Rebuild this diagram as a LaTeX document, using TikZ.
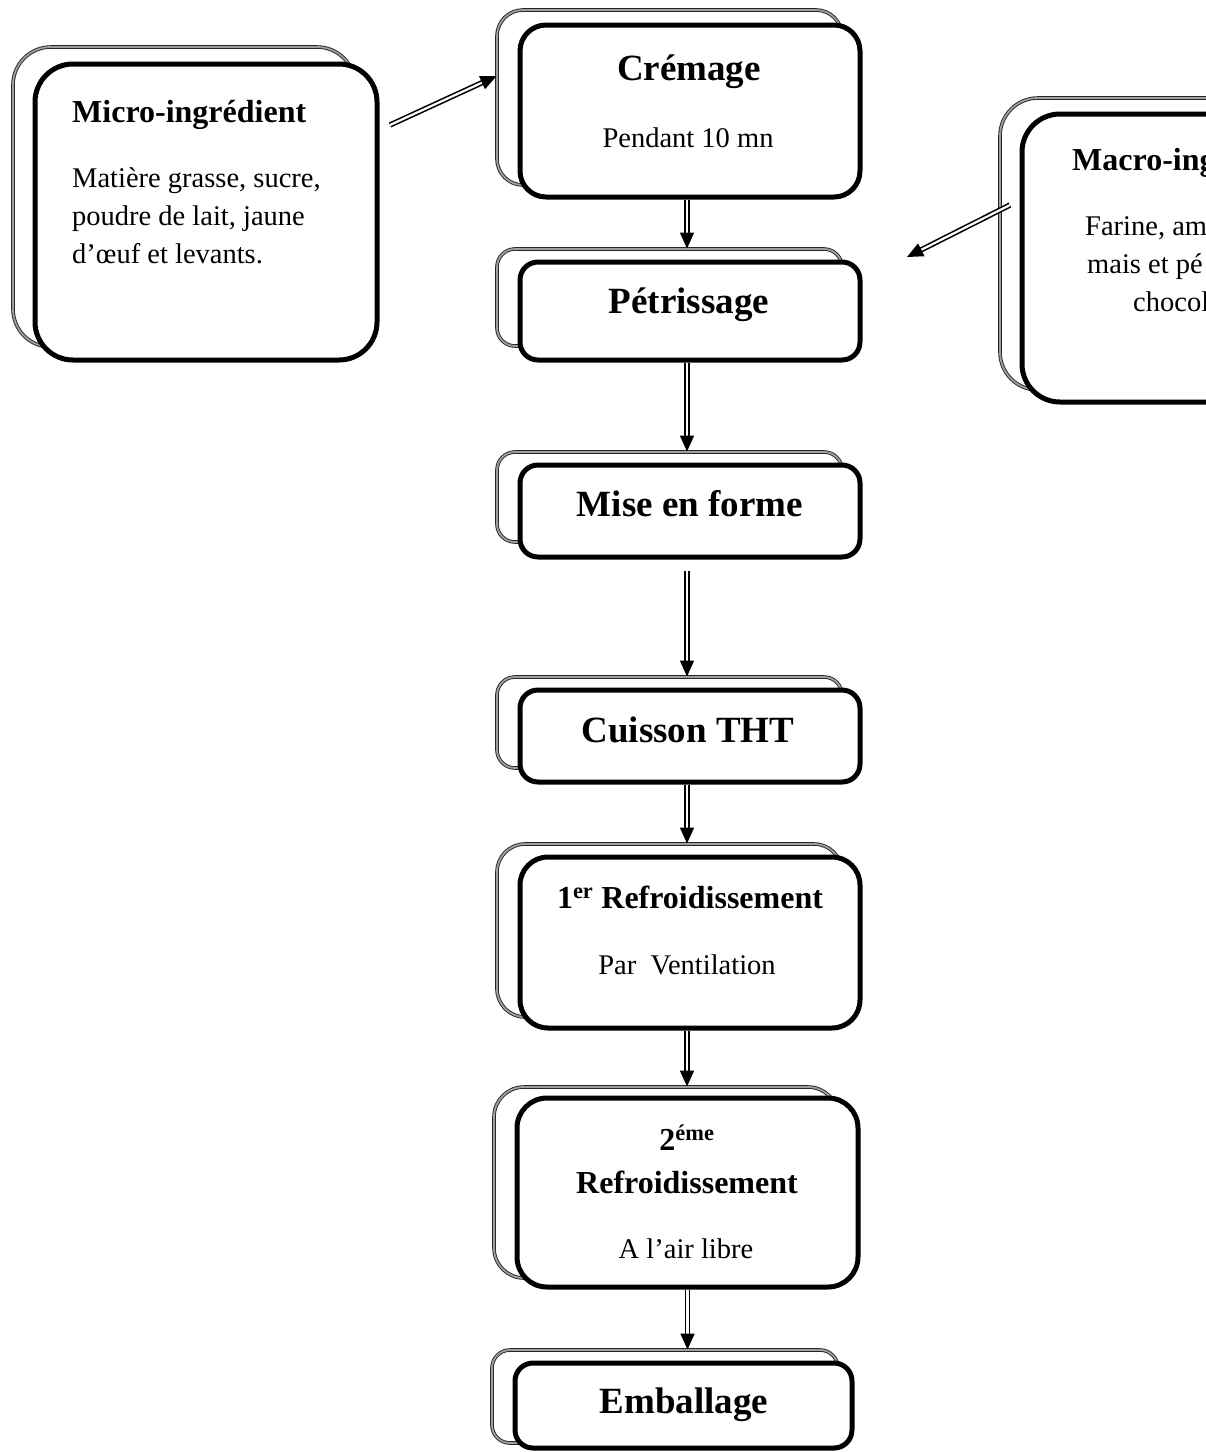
\documentclass[tikz,border=0pt]{standalone}
\usepackage{fontspec}
\setmainfont{Liberation Serif}
\usetikzlibrary{arrows.meta,calc}
\begin{document}
\begin{tikzpicture}[x=1pt,y=-1pt,
  mainbox/.style={draw=black, line width=5pt, fill=white, rounded corners=#1, inner sep=0pt},
  shadbox/.style={draw=black!85, line width=0.9pt, double=gray!75, double distance=1.8pt, rounded corners=#1, inner sep=0pt},
  flow/.style={draw=black, line width=1.6pt, double=white, double distance=2.2pt, -{Triangle[length=16pt,width=14pt]}},
  ttl/.style={anchor=base, inner sep=0pt, font=\fontsize{37}{44}\selectfont\bfseries},
  sttl/.style={anchor=base, inner sep=0pt, font=\fontsize{32}{38}\selectfont\bfseries},
  body/.style={anchor=base, inner sep=0pt, font=\fontsize{28.5}{38}\selectfont},
  lttl/.style={anchor=base west, inner sep=0pt, font=\fontsize{32}{38}\selectfont\bfseries},
  lbody/.style={anchor=base west, inner sep=0pt, font=\fontsize{28.5}{38}\selectfont}
]
\clip (0,0) rectangle (1206,1452);
\fill[white] (0,0) rectangle (1206,1452);

% Micro-ingredient
\node[shadbox=38pt, minimum width=342pt, minimum height=300pt] (miS) at (184,197) {};
\node[mainbox=38pt, minimum width=342pt, minimum height=296pt] (mi) at (206,212) {};
\node[lttl] (miT) at (72,122) {Micro-ingrédient};
\node[lbody] (miB1) at (72,187) {Matière grasse, sucre,};
\node[lbody] (miB2) at (72,225) {poudre de lait, jaune};
\node[lbody] (miB3) at (72,263) {d’œuf et levants.};

% Macro-ingredient (cut by the page edge)
\node[shadbox=38pt, minimum width=342pt, minimum height=292pt] (maS) at (1171,244) {};
\node[mainbox=38pt, minimum width=342pt, minimum height=288pt] (ma) at (1193,258) {};
\node[lttl] (maT) at (1072,170) {Macro-ing};
\node[lbody] (maB1) at (1085,235) {Farine, am};
\node[lbody] (maB2) at (1087,273) {mais et pé};
\node[lbody] (maB3) at (1133,311) {chocol};

% Cremage
\node[shadbox=26pt, minimum width=345pt, minimum height=175pt] (creS) at (669.5,97.5) {};
\node[mainbox=26pt, minimum width=340pt, minimum height=172pt] (cre) at (690,111) {};
\node[ttl] (creT) at (689,80) {Crémage};
\node[body] (creB) at (688,147) {Pendant 10 mn};

% Petrissage
\node[shadbox=18pt, minimum width=345pt, minimum height=97pt] (petS) at (669.5,297.5) {};
\node[mainbox=18pt, minimum width=340pt, minimum height=98pt] (pet) at (690,311) {};
\node[ttl] (petT) at (689,313) {Pétrissage};

% Mise en forme
\node[shadbox=18pt, minimum width=345pt, minimum height=90pt] (mefS) at (669.5,497) {};
\node[mainbox=18pt, minimum width=340pt, minimum height=92pt] (mef) at (690,511) {};
\node[ttl] (mefT) at (690,516) {Mise en forme};

% Cuisson THT
\node[shadbox=18pt, minimum width=345pt, minimum height=91pt] (cuiS) at (669.5,722.5) {};
\node[mainbox=18pt, minimum width=340pt, minimum height=92pt] (cui) at (690,736) {};
\node[ttl] (cuiT) at (688,742) {Cuisson THT};

% 1er refroidissement
\node[shadbox=28pt, minimum width=345pt, minimum height=173pt] (r1S) at (669.5,930.5) {};
\node[mainbox=28pt, minimum width=340pt, minimum height=171pt] (r1) at (690,942.5) {};
\node[sttl] (r1T) at (690,908) {1\textsuperscript{er} Refroidissement};
\node[body] (r1B) at (687,974) {Par\ \ Ventilation};

% 2eme refroidissement
\node[shadbox=30pt, minimum width=344pt, minimum height=191pt] (r2S) at (666,1182.5) {};
\node[mainbox=30pt, minimum width=341pt, minimum height=189pt] (r2) at (687.5,1192.5) {};
\node[sttl] (r2T1) at (687,1150) {2\textsuperscript{éme}};
\node[sttl] (r2T2) at (687,1193) {Refroidissement};
\node[body] (r2B) at (686,1258) {A l’air libre};

% Emballage
\node[shadbox=18pt, minimum width=346pt, minimum height=93pt] (embS) at (665,1396.5) {};
\node[mainbox=18pt, minimum width=337pt, minimum height=85pt] (emb) at (683.5,1405.5) {};
\node[ttl] (embT) at (684,1413) {Emballage};

% connectors
\draw[flow] ([xshift=-3pt]cre.south) -- ([xshift=-3pt]cre.south |- petS.north);
\draw[flow] ([xshift=-3pt]pet.south) -- ([xshift=-3pt]pet.south |- mefS.north);
\draw[flow, shorten <=11pt] ([xshift=-3pt]mef.south) -- ([xshift=-3pt]mef.south |- cuiS.north);
\draw[flow] ([xshift=-3pt]cui.south) -- ([xshift=-3pt]cui.south |- r1S.north);
\draw[flow] ([xshift=-3pt]r1.south) -- ([xshift=-3pt]r1.south |- r2S.north);
\draw[flow] (r2.south) -- (r2.south |- embS.north);

\coordinate (mi1) at (390,125);
\draw[flow] (mi1) -- ([yshift=21.5pt]creS.west);
\coordinate (ma1) at (1010,205);
\coordinate (ma2) at (907,257);
\draw[flow] (ma1) -- (ma2);
\end{tikzpicture}
\end{document}
